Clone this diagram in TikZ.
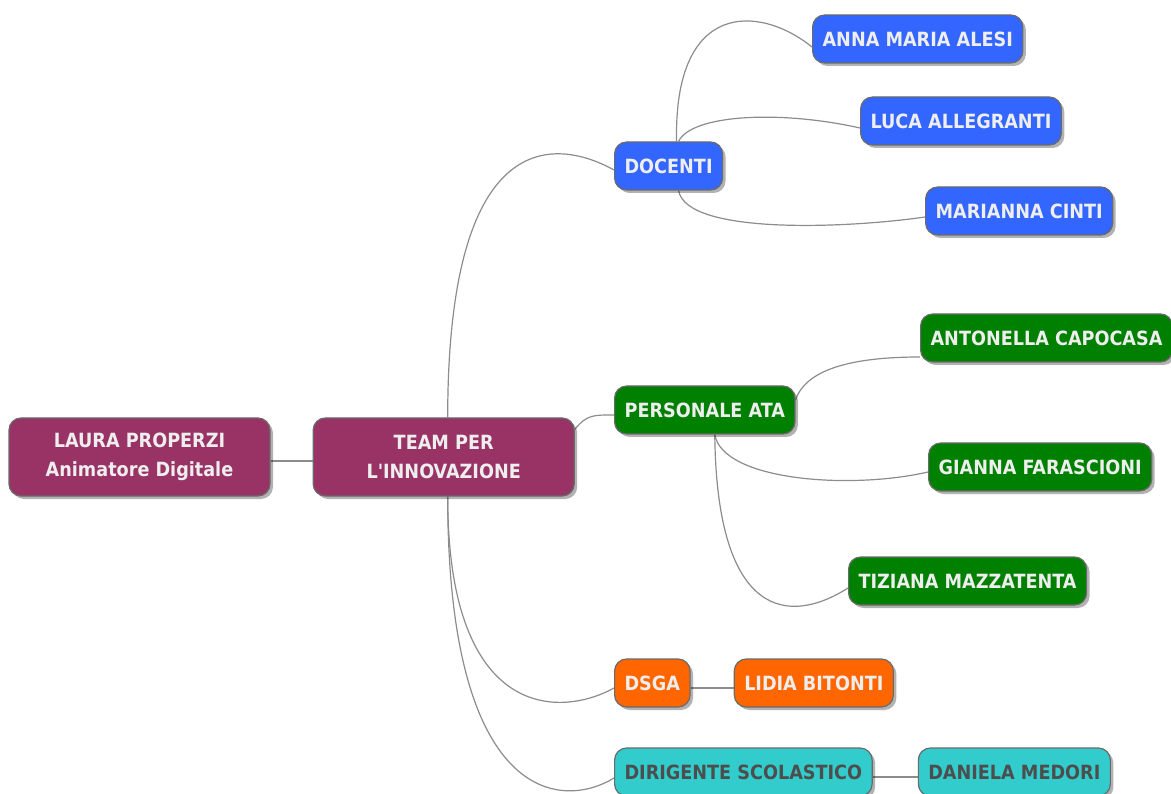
\documentclass[tikz,border=0pt]{standalone}
\usepackage{fontspec}
\usepackage{xcolor}
\usetikzlibrary{positioning, shadows, backgrounds}
\setmainfont{DejaVu Sans Condensed}
\definecolor{mmpurple}{HTML}{993366}
\definecolor{mmblue}{HTML}{3366FF}
\definecolor{mmgreen}{HTML}{008000}
\definecolor{mmorange}{HTML}{FF6600}
\definecolor{mmteal}{HTML}{33CCCC}
\definecolor{mmtext}{HTML}{EEEEEE}
\definecolor{mmdark}{HTML}{4D4D4D}
\definecolor{mmedge}{HTML}{8C8C8C}
\definecolor{mmborder}{HTML}{6A6A6A}

\begin{document}
\begin{tikzpicture}[x = 1pt, y = -1pt,
		topic/.style = {draw = mmborder, line width = 1.2pt, rounded corners = 12pt, text = mmtext,
			font = \fontsize{19.6}{29.5}\selectfont\bfseries, minimum height = 48pt, inner xsep = 10pt,
			drop shadow = {shadow xshift=3pt, shadow yshift=-3pt, fill=black, opacity=0.3}},
		root/.style = {topic, fill = mmpurple, align = center, minimum width = 261pt, minimum height = 78pt},
		doc/.style = {topic, fill = mmblue, anchor = west},
		ata/.style = {topic, fill = mmgreen, anchor = west},
		dsga/.style = {topic, fill = mmorange, anchor = west},
		dir/.style = {topic, fill = mmteal, text = mmdark, anchor = west},
		link/.style = {draw = mmedge, line width = 1.2pt}]
		\useasboundingbox (0, 0) rectangle (1171, 794);

		\node [root]                        (laura) at (139.5, 457) {LAURA PROPERZI\\Animatore Digitale};
		\node [root, right = 42pt of laura] (team) {TEAM PER\\L\textquotesingle INNOVAZIONE};

		\node [doc] (docenti) at (614, 166)  {DOCENTI};
		\node [doc] (anna)    at (812, 39)   {ANNA MARIA ALESI};
		\node [doc] (luca)    at (860, 121)  {LUCA ALLEGRANTI};
		\node [doc] (cinti)   at (925, 211)  {MARIANNA CINTI};

		\node [ata] (ata)        at (614, 410)  {PERSONALE ATA};
		\node [ata] (capocasa)   at (920, 338)  {ANTONELLA CAPOCASA};
		\node [ata] (farascioni) at (928, 467)  {GIANNA FARASCIONI};
		\node [ata] (mazzatenta) at (848, 581)  {TIZIANA MAZZATENTA};

		\node [dsga]                       (dsga) at (614, 683) {DSGA};
		\node [dsga, right = 43pt of dsga] (bitonti) {LIDIA BITONTI};

		\node [dir]                        (dirig) at (614, 772) {DIRIGENTE SCOLASTICO};
		\node [dir, right = 45pt of dirig] (medori) {DANIELA MEDORI};

		% links go under the boxes and their shadows
		\begin{scope}[on background layer]
			\draw [link] ([yshift = -4pt]laura.east) -- ([yshift = -4pt]team.west);

			\draw [link] ([xshift = 4pt]team.north) .. controls +(0, -298) and +(-54, -30) .. ([yshift = -4pt]docenti.west);
			\draw [link] ([yshift = -12pt]team.north east) .. controls +(12, -15) and +(-20, 0) .. ([yshift = -5pt]ata.west);
			\draw [link] ([xshift = 4pt]team.south) .. controls +(0, 224) and +(-54, 30) .. ([yshift = -5pt]dsga.west);
			\draw [link] ([xshift = 4pt]team.south) .. controls +(0, 304) and +(-54, 33) .. ([yshift = -6pt]dirig.west);

			\draw [link] ([xshift = 8pt]docenti.north) .. controls +(-3, -142) and +(-52, -42) .. ([yshift = -8pt]anna.west);
			\draw [link] ([xshift = 10pt]docenti.north) .. controls +(13, -27) and +(-80, -18) .. ([yshift = -7pt]luca.west);
			\draw [link] ([xshift = 10pt]docenti.south) .. controls +(8, 45) and +(-75, 11) .. ([yshift = -6pt]cinti.west);

			\draw [link] ([yshift = 10pt]ata.east) .. controls +(10, -30) and +(-70, 0) .. ([yshift = -19pt]capocasa.west);
			\draw [link] ([xshift = 10pt]ata.south) .. controls +(8, 46) and +(-78, 18) .. ([yshift = -5pt]farascioni.west);
			\draw [link] ([xshift = 10pt]ata.south) .. controls +(2, 186) and +(-58, 37) .. ([yshift = -7pt]mazzatenta.west);

			\draw [link] ([yshift = -5pt]dsga.east) -- ([yshift = -5pt]bitonti.west);
			\draw [link] ([yshift = -5pt]dirig.east) -- ([yshift = -5pt]medori.west);
		\end{scope}
	\end{tikzpicture}
\end{document}
